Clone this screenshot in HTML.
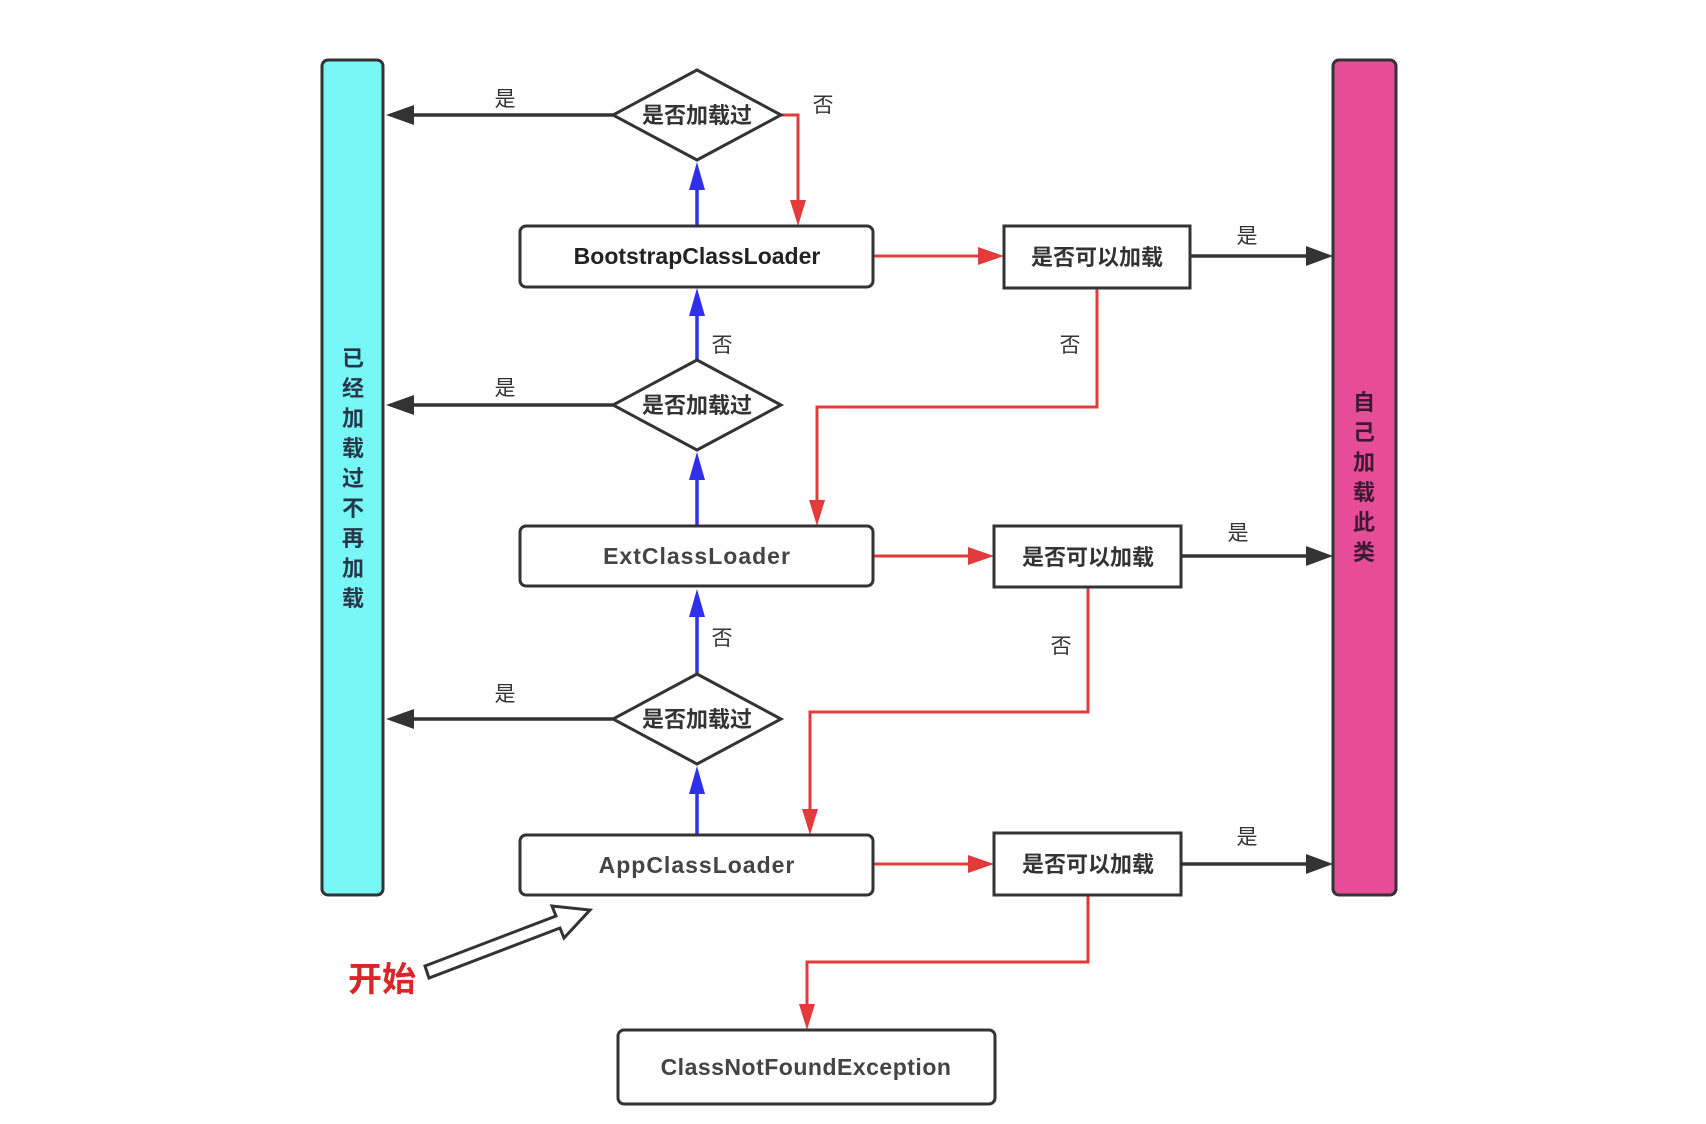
<!DOCTYPE html>
<html><head><meta charset="utf-8"><style>
html,body{margin:0;padding:0;background:#fff;}
svg{display:block;}
text{font-family:"Liberation Sans","Noto Sans CJK SC",sans-serif;}
</style></head><body>
<svg width="1706" height="1124" viewBox="0 0 1706 1124" xmlns="http://www.w3.org/2000/svg">
<defs>
<marker id="ak" markerWidth="10" markerHeight="10" refX="9" refY="5" orient="auto" markerUnits="userSpaceOnUse" viewBox="0 0 10 10"><path d="M0,0 L10,5 L0,10 z" fill="#333"/></marker>
</defs>
<!-- side bars -->
<rect x="322" y="60" width="61" height="835" rx="6" fill="#78f7f7" stroke="#333" stroke-width="3"/>
<rect x="1333" y="60" width="63" height="835" rx="6" fill="#e64c98" stroke="#333" stroke-width="3"/>
<g font-size="22" font-weight="bold" fill="#24384a" text-anchor="middle">
<text x="353" y="366">已</text><text x="353" y="396">经</text><text x="353" y="426">加</text><text x="353" y="456">载</text><text x="353" y="486">过</text><text x="353" y="516">不</text><text x="353" y="546">再</text><text x="353" y="576">加</text><text x="353" y="606">载</text>
</g>
<g font-size="22" font-weight="bold" fill="#3a1a30" text-anchor="middle">
<text x="1364" y="410">自</text><text x="1364" y="440">己</text><text x="1364" y="470">加</text><text x="1364" y="500">载</text><text x="1364" y="530">此</text><text x="1364" y="560">类</text>
</g>
<!-- black 是 arrows left -->
<g stroke="#333" stroke-width="3.5" fill="#333">
<line x1="613" y1="115" x2="412" y2="115"/><path d="M386,115 L414,105 L414,125z" stroke="none"/>
<line x1="613" y1="405" x2="412" y2="405"/><path d="M386,405 L414,395 L414,415z" stroke="none"/>
<line x1="613" y1="719" x2="412" y2="719"/><path d="M386,719 L414,709 L414,729z" stroke="none"/>
<line x1="1190" y1="256" x2="1308" y2="256"/><path d="M1333,256 L1306,246 L1306,266z" stroke="none"/>
<line x1="1181" y1="556" x2="1308" y2="556"/><path d="M1333,556 L1306,546 L1306,566z" stroke="none"/>
<line x1="1181" y1="864" x2="1308" y2="864"/><path d="M1333,864 L1306,854 L1306,874z" stroke="none"/>
</g>
<!-- blue arrows -->
<g stroke="#3030e8" stroke-width="3.5" fill="#3030e8">
<line x1="697" y1="226" x2="697" y2="185"/><path d="M697,162 L689,190 L705,190z" stroke="none"/>
<line x1="697" y1="360" x2="697" y2="312"/><path d="M697,288 L689,316 L705,316z" stroke="none"/>
<line x1="697" y1="526" x2="697" y2="474"/><path d="M697,452 L689,480 L705,480z" stroke="none"/>
<line x1="697" y1="673" x2="697" y2="612"/><path d="M697,589 L689,617 L705,617z" stroke="none"/>
<line x1="697" y1="835" x2="697" y2="788"/><path d="M697,766 L689,794 L705,794z" stroke="none"/>
</g>
<!-- red arrows -->
<g stroke="#e23b3b" stroke-width="3" fill="none">
<polyline points="781,115 798,115 798,205"/>
<line x1="873" y1="256" x2="980" y2="256"/>
<polyline points="1097,288 1097,407 817,407 817,505"/>
<line x1="873" y1="556" x2="970" y2="556"/>
<polyline points="1088,587 1088,712 810,712 810,814"/>
<line x1="873" y1="864" x2="970" y2="864"/>
<polyline points="1088,895 1088,962 807,962 807,1009"/>
</g>
<g fill="#e23b3b">
<path d="M798,226 L790,200 L806,200z"/>
<path d="M1004,256 L978,247 L978,265z"/>
<path d="M817,526 L809,500 L825,500z"/>
<path d="M994,556 L968,547 L968,565z"/>
<path d="M810,835 L802,809 L818,809z"/>
<path d="M994,864 L968,855 L968,873z"/>
<path d="M807,1030 L799,1004 L815,1004z"/>
</g>
<!-- diamonds -->
<g fill="#fff" stroke="#333" stroke-width="3">
<path d="M697,70 L781,115 L697,160 L613,115z"/>
<path d="M697,360 L781,405 L697,450 L613,405z"/>
<path d="M697,674 L781,719 L697,764 L613,719z"/>
</g>
<g font-size="22" font-weight="bold" fill="#333" text-anchor="middle">
<text x="697" y="123">是否加载过</text>
<text x="697" y="413">是否加载过</text>
<text x="697" y="727">是否加载过</text>
</g>
<!-- loader boxes -->
<g fill="#fff" stroke="#333" stroke-width="3">
<rect x="520" y="226" width="353" height="61" rx="6"/>
<rect x="520" y="526" width="353" height="60" rx="6"/>
<rect x="520" y="835" width="353" height="60" rx="6"/>
<rect x="618" y="1030" width="377" height="74" rx="6"/>
<rect x="1004" y="226" width="186" height="62"/>
<rect x="994" y="526" width="187" height="61"/>
<rect x="994" y="833" width="187" height="62"/>
</g>
<g font-size="23" font-weight="bold" fill="#222" text-anchor="middle">
<text x="697" y="264">BootstrapClassLoader</text>
<text x="697" y="564" fill="#444" letter-spacing="1">ExtClassLoader</text>
<text x="697" y="873" fill="#444" letter-spacing="1">AppClassLoader</text>
<text x="806" y="1075" fill="#444" letter-spacing="0.5">ClassNotFoundException</text>
</g>
<g font-size="22" font-weight="bold" fill="#333" text-anchor="middle">
<text x="1097" y="265">是否可以加载</text>
<text x="1088" y="565">是否可以加载</text>
<text x="1088" y="872">是否可以加载</text>
</g>
<!-- labels -->
<g font-size="21" fill="#333" text-anchor="middle">
<text x="505" y="106">是</text><text x="505" y="395">是</text><text x="505" y="701">是</text>
<text x="823" y="112">否</text><text x="722" y="352">否</text><text x="722" y="645">否</text>
<text x="1070" y="352">否</text><text x="1061" y="653">否</text>
<text x="1247" y="243">是</text><text x="1238" y="540">是</text><text x="1247" y="844">是</text>
</g>
<!-- start -->
<polygon points="425,966 556,916 552,906 590,910 564,938 560,928 429,978" fill="#fff" stroke="#333" stroke-width="3" stroke-linejoin="miter"/>
<text x="382" y="991" font-size="34" font-weight="bold" fill="#d8262a" text-anchor="middle">开始</text>
</svg>
</body></html>
